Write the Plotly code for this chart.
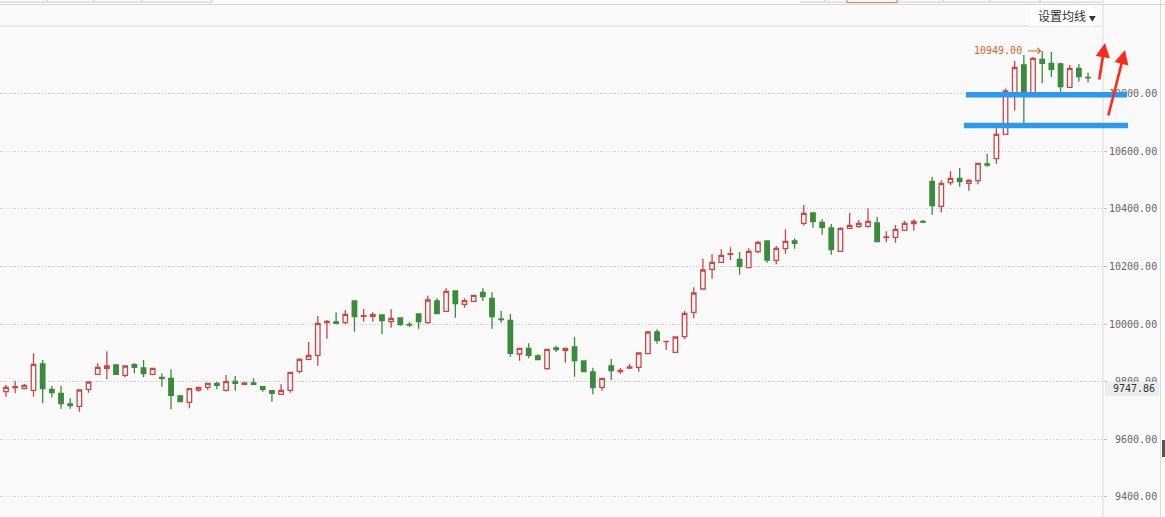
import plotly.graph_objects as go

# ---------------- data ----------------
opens = [9764.7, 9778.6, 9775.2, 9769.6, 9861.0, 9773.1, 9759.2, 9722.0, 9714.0, 9773.1,
         9825.2, 9846.1, 9857.5, 9821.7, 9858.6, 9847.1, 9825.2, 9814.8, 9811.3, 9749.8,
         9727.9, 9770.6, 9780.0, 9793.9, 9769.6, 9800.9, 9790.5, 9795.0, 9782.1, 9768.2,
         9755.7, 9769.6, 9835.6, 9877.3, 9891.2, 10004.5, 10007.0, 10004.5, 10079.9, 10026.8,
         10026.8, 10031.3, 10008.0, 10020.9, 9999.0, 10034.8, 10004.5, 10079.9, 10044.1, 10114.7,
         10068.5, 10078.9, 10110.2, 10089.3, 10017.4, 10012.9, 9895.7, 9915.6, 9888.8, 9844.7,
         9916.6, 9908.6, 9920.1, 9871.4, 9833.2, 9780.0, 9854.0, 9834.2, 9847.1, 9849.5,
         9896.8, 9972.2, 9938.5, 9901.7, 9955.9, 10040.7, 10121.6, 10190.1, 10214.4, 10242.2,
         10224.8, 10195.6, 10251.2, 10288.4, 10221.4, 10261.7, 10288.4, 10349.9, 10385.7, 10353.4,
         10333.6, 10252.6, 10332.6, 10338.1, 10339.5, 10351.0, 10299.9, 10301.3, 10325.6, 10348.5,
         10356.9, 10495.9, 10409.0, 10491.0, 10506.3, 10488.9, 10498.0, 10556.0, 10574.4, 10659.2,
         10799.3, 10900.0, 10802.7, 10919.8, 10905.2, 10903.5, 10822.5, 10888.6, 10857.3]
highs = [9788.0, 9803.0, 9791.5, 9898.2, 9874.9, 9784.5, 9784.5, 9741.8, 9773.1, 9800.9,
         9863.4, 9905.1, 9858.0, 9854.0, 9863.4, 9874.9, 9846.1, 9828.7, 9842.6, 9753.3,
         9775.2, 9780.0, 9796.0, 9799.5, 9822.8, 9819.3, 9796.0, 9811.3, 9782.1, 9770.6,
         9790.5, 9832.2, 9880.8, 9937.4, 10027.8, 10013.9, 10040.7, 10048.7, 10079.9, 10052.1,
         10040.7, 10033.7, 10051.1, 10023.3, 10007.0, 10034.8, 10098.3, 10089.3, 10124.1, 10114.7,
         10089.3, 10099.7, 10124.1, 10110.2, 10045.2, 10034.8, 9915.6, 9932.9, 9895.7, 9912.1,
         9923.5, 9917.6, 9954.8, 9871.4, 9848.1, 9811.3, 9878.4, 9847.1, 9861.0, 9899.2,
         9975.7, 9981.6, 9939.9, 9954.8, 10045.2, 10127.5, 10225.9, 10243.3, 10259.6, 10266.5,
         10250.2, 10263.1, 10288.4, 10288.4, 10271.1, 10329.1, 10297.8, 10413.5, 10388.2, 10363.8,
         10347.5, 10336.0, 10386.8, 10361.4, 10402.1, 10371.8, 10322.1, 10344.0, 10359.0, 10363.8,
         10361.4, 10510.8, 10499.4, 10530.6, 10542.1, 10502.8, 10558.4, 10590.8, 10680.1, 10818.4,
         10913.9, 10934.8, 10927.8, 10949.0, 10945.2, 10908.7, 10900.0, 10903.5, 10874.0]
lows = [9747.4, 9759.2, 9774.1, 9747.4, 9724.4, 9745.3, 9705.7, 9705.7, 9695.2, 9761.3,
        9822.8, 9807.8, 9823.8, 9814.8, 9828.7, 9814.8, 9821.7, 9782.1, 9703.6, 9728.9,
        9707.1, 9764.7, 9770.6, 9773.1, 9764.7, 9768.2, 9787.0, 9788.0, 9764.7, 9730.0,
        9755.7, 9761.3, 9828.7, 9877.3, 9855.1, 9948.9, 10001.0, 9999.0, 9973.2, 10008.0,
        10008.0, 9964.2, 9987.1, 9994.1, 9990.6, 9983.7, 10001.0, 10035.8, 10044.1, 10021.9,
        10056.6, 10078.9, 10081.0, 9983.7, 10004.5, 9886.4, 9872.5, 9880.8, 9875.9, 9841.2,
        9902.7, 9865.5, 9816.9, 9834.2, 9755.7, 9768.2, 9805.4, 9827.3, 9843.6, 9834.2,
        9896.8, 9931.5, 9909.6, 9901.7, 9947.9, 10019.8, 10119.2, 10157.4, 10214.4, 10222.4,
        10171.3, 10193.6, 10245.7, 10213.0, 10207.5, 10244.3, 10261.7, 10341.6, 10334.6, 10310.3,
        10240.8, 10252.6, 10332.6, 10334.6, 10334.6, 10286.0, 10283.9, 10282.5, 10325.6, 10324.2,
        10349.9, 10379.8, 10388.2, 10482.0, 10477.1, 10463.2, 10485.5, 10546.6, 10557.0, 10656.8,
        10741.9, 10697.4, 10802.7, 10836.4, 10858.3, 10807.2, 10822.5, 10842.0, 10839.2]
closes = [9780.0, 9782.1, 9787.0, 9860.0, 9775.2, 9761.3, 9723.0, 9716.1, 9770.6, 9798.4,
          9849.5, 9854.0, 9825.2, 9854.0, 9849.5, 9827.3, 9846.1, 9811.3, 9752.2, 9730.0,
          9775.2, 9780.0, 9793.9, 9787.0, 9799.5, 9793.9, 9795.0, 9790.5, 9773.1, 9759.2,
          9769.6, 9832.2, 9877.3, 9891.2, 10002.4, 10009.4, 10002.4, 10033.7, 10025.4, 10028.8,
          10032.3, 10011.5, 10019.8, 9997.6, 9996.5, 10008.0, 10083.4, 10035.8, 10113.6, 10070.5,
          10081.0, 10099.7, 10094.9, 10025.4, 10014.9, 9898.2, 9915.6, 9891.2, 9875.9, 9912.1,
          9910.7, 9915.6, 9872.5, 9834.2, 9778.6, 9811.3, 9837.7, 9839.1, 9850.6, 9899.2,
          9972.2, 9943.4, 9939.9, 9954.8, 10037.2, 10107.7, 10187.7, 10214.4, 10238.7, 10244.3,
          10200.5, 10252.6, 10283.9, 10222.4, 10263.1, 10287.4, 10280.4, 10384.7, 10355.5, 10336.0,
          10258.2, 10332.6, 10343.0, 10349.9, 10356.9, 10286.0, 10302.3, 10329.1, 10349.9, 10356.9,
          10354.5, 10411.1, 10488.9, 10506.3, 10494.5, 10499.4, 10558.4, 10552.5, 10659.2, 10809.7,
          10891.3, 10802.7, 10923.3, 10905.9, 10885.1, 10824.6, 10888.6, 10860.1, 10855.5]
positions = list(range(len(opens)))

tick_values = [9400, 9600, 9800, 10000, 10200, 10400, 10600, 10800]
tick_labels = ["\u00a09400.00", "\u00a09600.00", "\u00a09800.00", "10000.00",
               "10200.00", "10400.00", "10600.00", "10800.00"]

max_label = "10949.00"
max_value = 10949.0
max_index = 113
price_label = "9747.86"
menu_label = "设置均线"
upper_level = 10797.0
lower_level = 10690.0

# ---------------- figure geometry ----------------
W, H = 1165, 517
ML, MR, MT, MB = 0, 62, 27, 0
PW, PH = W - ML - MR, H - MT - MB
Y0, Y1 = 9329.3, 11032.1
X0, X1 = -0.654, 119.63


def px(x):
    return (x - ML) / PW


def py(y):
    return (H - MB - y) / PH


def pv(v):
    return (v - Y0) / (Y1 - Y0)


RED = "#cd4646"
GREEN = "#3a8c3a"
BG = "#fafafa"

fig = go.Figure(go.Candlestick(
    x=positions, open=opens, high=highs, low=lows, close=closes,
    increasing=dict(line=dict(color=RED, width=1.3), fillcolor=BG),
    decreasing=dict(line=dict(color=GREEN, width=1.3), fillcolor=GREEN),
    whiskerwidth=0, hoverinfo="skip", showlegend=False,
))

shapes = []
# header lines / tabs
shapes.append(dict(type="line", xref="paper", yref="paper", x0=px(0), x1=px(W),
                   y0=py(4.5), y1=py(4.5), line=dict(color="#d6d6d6", width=1)))
shapes.append(dict(type="line", xref="paper", yref="paper", x0=px(0), x1=px(1103),
                   y0=py(26), y1=py(26), line=dict(color="#e6e6e6", width=1.5)))
for tx in [47, 94, 142, 212, 825, 847, 897, 943, 990, 1040]:
    shapes.append(dict(type="line", xref="paper", yref="paper", x0=px(tx), x1=px(tx),
                       y0=py(0), y1=py(2.5), line=dict(color="#cfcfcf", width=1)))
shapes.append(dict(type="line", xref="paper", yref="paper", x0=px(0), x1=px(212),
                   y0=py(2.2), y1=py(2.2), line=dict(color="#cfcfcf", width=1)))
shapes.append(dict(type="line", xref="paper", yref="paper", x0=px(800), x1=px(1103),
                   y0=py(2.2), y1=py(2.2), line=dict(color="#cfcfcf", width=1)))
shapes.append(dict(type="rect", xref="paper", yref="paper", x0=px(847), x1=px(897),
                   y0=py(2.5), y1=py(-1), line=dict(color="#e07a3c", width=1), fillcolor=BG))
# menu white box
shapes.append(dict(type="rect", xref="paper", yref="paper", x0=px(1030), x1=px(1094),
                   y0=py(26), y1=py(6), line=dict(width=0), fillcolor="#ffffff"))
# right axis lines
shapes.append(dict(type="line", xref="paper", yref="paper", x0=px(1103), x1=px(1103),
                   y0=py(0), y1=py(H), line=dict(color="#dcdcdc", width=1)))
shapes.append(dict(type="line", xref="paper", yref="paper", x0=px(1160.5), x1=px(1160.5),
                   y0=py(0), y1=py(H), line=dict(color="#dcdcdc", width=1)))
shapes.append(dict(type="rect", xref="paper", yref="paper", x0=px(1162), x1=px(1165),
                   y0=py(457), y1=py(440), line=dict(width=0), fillcolor="#555555"))
# current price box
shapes.append(dict(type="rect", xref="paper", yref="paper", x0=px(1105), x1=px(1159),
                   y0=py(396), y1=py(381.7), line=dict(width=0), fillcolor="#ececec"))
# hand-drawn blue levels
shapes.append(dict(type="line", xref="paper", yref="paper", x0=px(966), x1=px(1127),
                   y0=pv(upper_level), y1=pv(upper_level),
                   line=dict(color="#2a9af0", width=5.5)))
shapes.append(dict(type="line", xref="paper", yref="paper", x0=px(964), x1=px(1128),
                   y0=pv(lower_level), y1=pv(lower_level),
                   line=dict(color="#2a9af0", width=5.5)))

annotations = []
annotations.append(dict(xref="paper", yref="paper", x=px(1036), y=py(16), xanchor="left",
                        yanchor="middle", showarrow=False,
                        text=menu_label + " <span style='font-size:7px'>▼</span>",
                        font=dict(family="Noto Sans CJK SC", size=12, color="#333333")))
annotations.append(dict(xref="paper", yref="paper", x=px(1157), y=py(388.8), xanchor="right",
                        yanchor="middle", showarrow=False, text=price_label,
                        font=dict(family="DejaVu Sans Mono", size=10, color="#333333")))
# max label and its arrow
annotations.append(dict(xref="x", yref="y", x=max_index - 1.95, y=max_value, xanchor="right",
                        yanchor="middle", showarrow=False, text=max_label,
                        font=dict(family="DejaVu Sans Mono", size=10, color="#d2691e")))
annotations.append(dict(xref="x", yref="y", x=max_index - 0.1, y=max_value, ax=-15, ay=0,
                        axref="pixel", ayref="pixel", text="", showarrow=True,
                        arrowhead=4, arrowsize=1.1, arrowwidth=1, arrowcolor="#d2691e"))
# hand-drawn red arrows
annotations.append(dict(xref="paper", yref="paper", x=px(1105), y=py(43), ax=-6, ay=38,
                        text="", showarrow=True, arrowhead=2, arrowsize=1.1,
                        arrowwidth=2.6, arrowcolor="#ff2a1a"))
annotations.append(dict(xref="paper", yref="paper", x=px(1125), y=py(50), ax=-17, ay=67,
                        text="", showarrow=True, arrowhead=2, arrowsize=1.1,
                        arrowwidth=2.6, arrowcolor="#ff2a1a"))

fig.update_layout(
    width=W, height=H,
    margin=dict(l=ML, r=MR, t=MT, b=MB, pad=0),
    paper_bgcolor=BG, plot_bgcolor=BG,
    shapes=shapes, annotations=annotations,
    showlegend=False,
    xaxis=dict(range=[X0, X1], visible=False, rangeslider=dict(visible=False),
               showgrid=False, zeroline=False),
    yaxis=dict(range=[Y0, Y1], side="right", tickmode="array", tickvals=tick_values,
               ticktext=tick_labels, showgrid=True, gridcolor="#c8c8c8", griddash="1px,2px",
               gridwidth=1, zeroline=False, showline=False, ticks="outside", ticklen=3,
               tickcolor="#c0c0c0",
               tickfont=dict(family="DejaVu Sans Mono", size=10, color="#666666")),
)

fig.write_html("out.html", config={"displayModeBar": False, "staticPlot": True},
               post_script="document.body.style.margin='0';document.body.style.overflow='hidden';")
